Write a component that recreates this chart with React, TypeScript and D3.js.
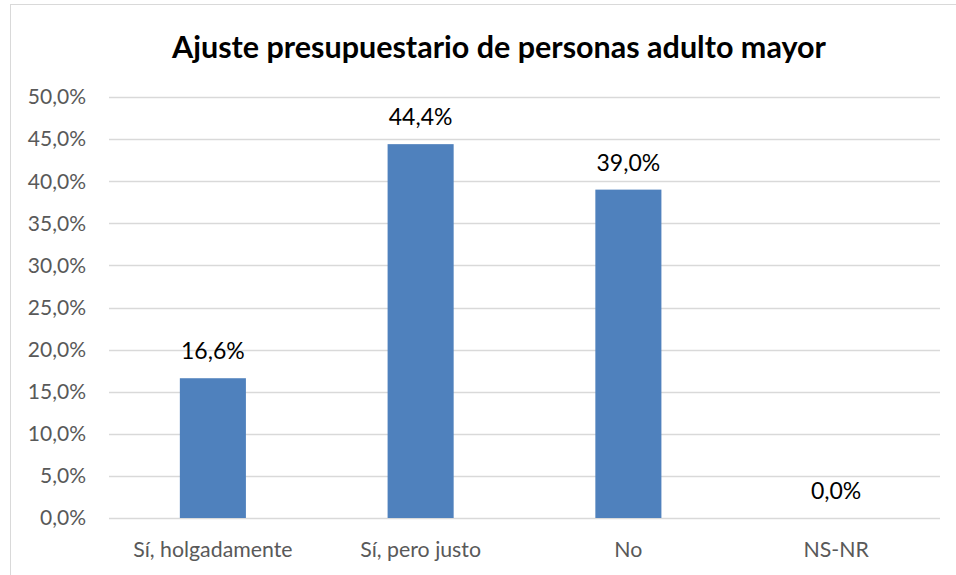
import React from "react";
import * as d3 from "d3";

const categories = ["Sí, holgadamente", "Sí, pero justo", "No", "NS-NR"];
const values = [16.6, 44.4, 39.0, 0.0];
const yTicks = [0, 5, 10, 15, 20, 25, 30, 35, 40, 45, 50];
const title = "Ajuste presupuestario de personas adulto mayor";

const W = 956;
const H = 575;
const margin = { left: 109, right: 16, top: 97, bottom: 57 };
const font = "Lato, 'Open Sans', sans-serif";

const fmt = (v: number) => v.toFixed(1).replace(".", ",") + "%";

export default function App() {
  const x = d3
    .scaleBand<string>()
    .domain(categories)
    .range([margin.left, W - margin.right])
    .paddingInner(0.682)
    .paddingOuter(0.341);
  const y = d3
    .scaleLinear()
    .domain([0, 50])
    .range([H - margin.bottom, margin.top]);

  return (
    <svg
      width={W}
      height={H}
      style={{ position: "absolute", left: 0, top: 0, background: "#fff" }}
    >
      <rect x={10.5} y={4.5} width={W} height={H} fill="#fff" stroke="#d9d9d9" />
      <text
        x={499}
        y={47}
        dy="0.35em"
        textAnchor="middle"
        fontFamily={font}
        fontWeight="bold"
        fontSize={30.5}
        fill="#000"
      >
        {title}
      </text>
      {yTicks.map((t) => (
        <g key={t}>
          <line
            x1={margin.left}
            x2={W - margin.right}
            y1={Math.round(y(t)) + 0.5}
            y2={Math.round(y(t)) + 0.5}
            stroke="#d9d9d9"
            strokeWidth={1.3}
          />
          <text
            x={86}
            y={y(t)}
            dy="0.35em"
            textAnchor="end"
            fontFamily={font}
            fontSize={21}
            fill="#595959"
          >
            {fmt(t)}
          </text>
        </g>
      ))}
      {categories.map((c, i) => (
        <g key={c}>
          <rect
            x={x(c)}
            y={y(values[i])}
            width={x.bandwidth()}
            height={y(0) - y(values[i])}
            fill="#4f81bd"
          />
          <text
            x={x(c)! + x.bandwidth() / 2}
            y={y(values[i]) - 27}
            dy="0.35em"
            textAnchor="middle"
            fontFamily={font}
            fontSize={23}
            fill="#000"
          >
            {fmt(values[i])}
          </text>
          <text
            x={x(c)! + x.bandwidth() / 2}
            y={550}
            dy="0.35em"
            textAnchor="middle"
            fontFamily={font}
            fontSize={21.3}
            fill="#595959"
          >
            {c}
          </text>
        </g>
      ))}
    </svg>
  );
}
